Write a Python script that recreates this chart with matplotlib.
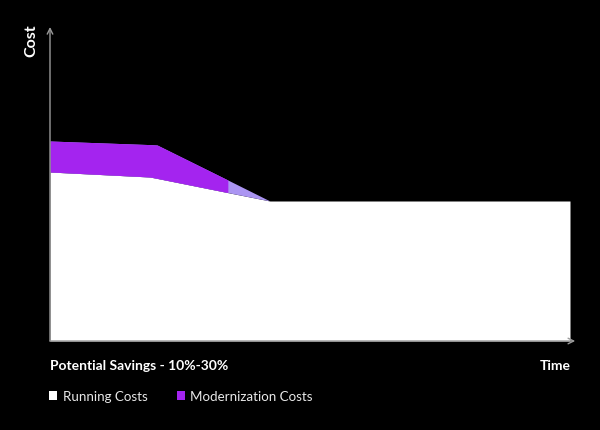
import matplotlib
matplotlib.use("Agg")
from matplotlib import pyplot as plt
from matplotlib.patches import Patch

plt.rcParams['font.family'] = ['Lato', 'DejaVu Sans']

# time axis 0..100, cost axis 0..314 (arbitrary units)
time = [0, 19.2, 20.6, 34.2, 42.3, 100]
running = [169, 164, 162.6, 148.4, 140, 140]
modern = [31, 32.4, 33.4, 12.6, 0, 0]
DARK_END = 34.2   # darker part of the modernization band stops here

WHITE = '#ffffff'
PURPLE = '#a424ef'
LIGHT = '#ab95f2'
AXIS = '#9a9a9a'

fig = plt.figure(figsize=(6, 4.31), dpi=100, facecolor='black')
ax = fig.add_axes([50 / 600, 89 / 431, 520 / 600, 314 / 431])
ax.set_facecolor('black')

top = [r + m for r, m in zip(running, modern)]
ax.fill_between(time, 0, running, color=WHITE, lw=0)
ax.fill_between(time, running, top, color=LIGHT, lw=0)
dt = [t for t in time if t <= DARK_END]
n = len(dt)
ax.fill_between(dt, running[:n], top[:n], color=PURPLE, lw=0)

ax.set_xlim(0, 100)
ax.set_ylim(0, 314)
for s in ax.spines.values():
    s.set_visible(False)
ax.set_xticks([])
ax.set_yticks([])

# axis arrows
ax.annotate('', xy=(0, 1.0), xytext=(0, 0), xycoords='axes fraction',
            arrowprops=dict(arrowstyle='->', color=AXIS, lw=1, shrinkA=0, shrinkB=0))
ax.annotate('', xy=(1.01, 0), xytext=(0, 0), xycoords='axes fraction',
            arrowprops=dict(arrowstyle='->', color=AXIS, lw=1, shrinkA=0, shrinkB=0))

bold = dict(color='white', fontsize=10, fontweight='bold')
fig.text(31 / 600, 1 - 41 / 431, 'Cost', rotation=90, ha='center', va='center',
         color='white', fontsize=11.5, fontweight='bold')
fig.text(50 / 600, 1 - 366 / 431, 'Potential Savings - 10%-30%', ha='left', va='center',
         **bold)
fig.text(571 / 600, 1 - 366 / 431, 'Time', ha='right', va='center', **bold)

handles = [Patch(facecolor=WHITE, label='Running Costs'),
           Patch(facecolor=PURPLE, label='Modernization Costs')]
leg = fig.legend(handles=handles, loc='center left', bbox_to_anchor=(0.062, 1 - 397 / 431),
                 ncol=2, frameon=False, fontsize=9.6, handlelength=0.6, handleheight=0.6,
                 handletextpad=0.4, columnspacing=2.2)
for t in leg.get_texts():
    t.set_color('#e8e8e8')

fig.savefig('out.png', dpi=100, facecolor='black')
